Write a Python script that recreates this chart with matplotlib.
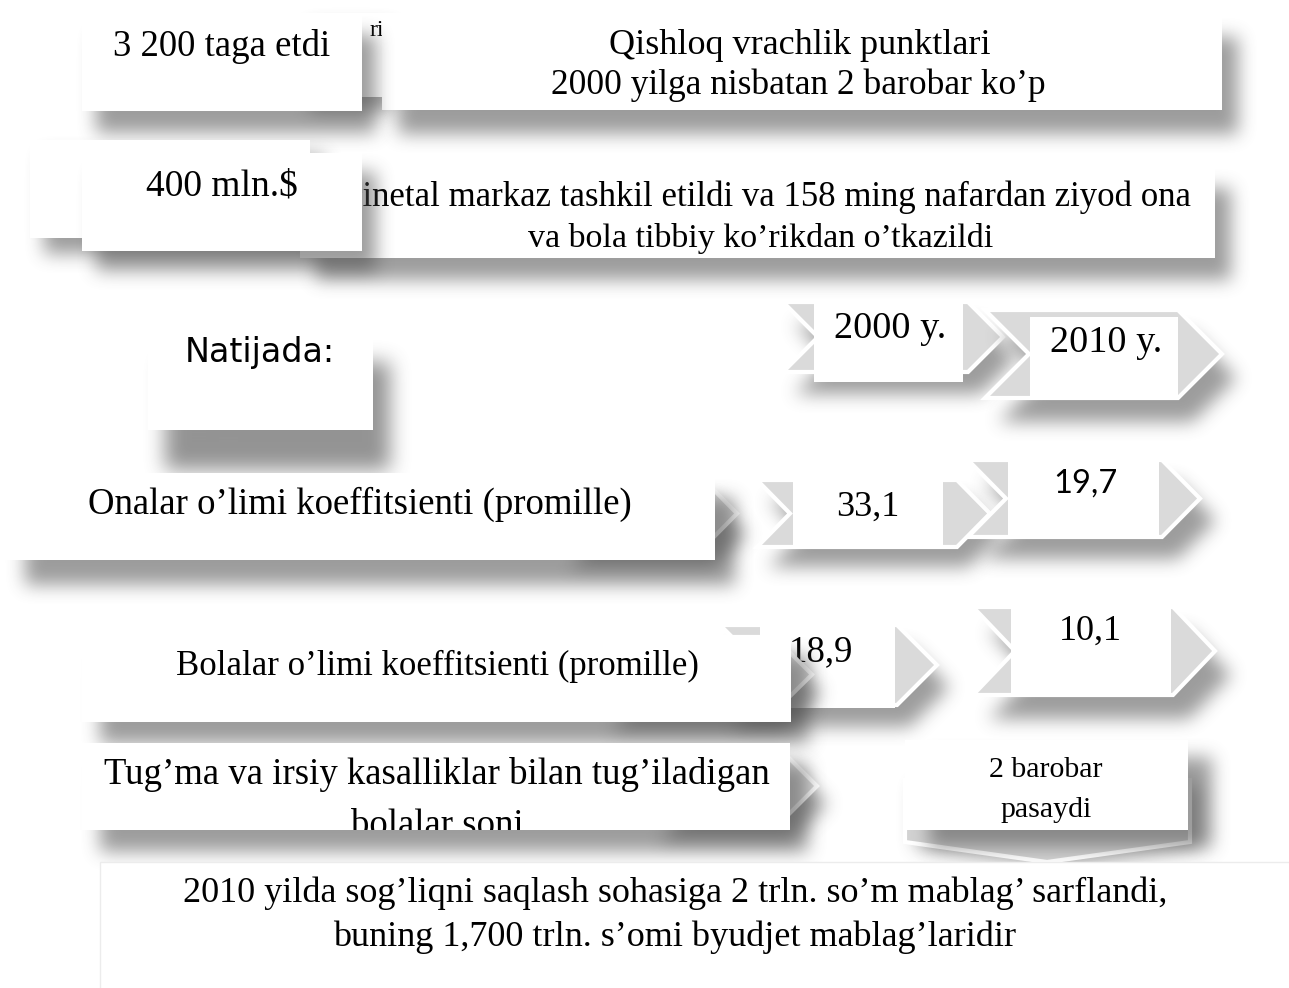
import matplotlib.pyplot as plt
import numpy as np
from matplotlib.patches import Polygon
from matplotlib.path import Path
from matplotlib.transforms import Bbox, TransformedBbox

# data
years = ['2000 y.', '2010 y.']
onalar = [33.1, 19.7]
bolalar = [18.9, 10.1]
row_labels = ['Onalar o’limi koeffitsienti (promille)',
              'Bolalar o’limi koeffitsienti (promille)']
tugma = ['Tug’ma va irsiy kasalliklar bilan tug’iladigan', 'bolalar soni']
tugma_result = ['2 barobar', 'pasaydi']
top_notes = ['3 200 taga etdi', '400 mln.$']
qishloq = ['Qishloq vrachlik punktlari', '2000 yilga nisbatan 2 barobar ko’p']
perinatal = ['Perinetal markaz tashkil etildi va 158 ming nafardan ziyod ona',
             'va bola tibbiy ko’rikdan o’tkazildi']
bottom = ['2010 yilda sog’liqni saqlash sohasiga 2 trln. so’m mablag’ sarflandi,',
          'buning 1,700 trln. s’omi byudjet mablag’laridir']


def fmt(v):
    return f'{v:.1f}'.replace('.', ',')


W, H = 1289, 988
SERIF = 'Liberation Serif'

fig = plt.figure(figsize=(W / 100, H / 100), dpi=100)
ax = fig.add_axes([0, 0, 1, 1])
ax.set_xlim(0, W)
ax.set_ylim(H, 0)
z = [1]


def blur(a, r):
    for _ in range(3):
        for k in (0, 1):
            pad = [(r + 1, r) if i == k else (0, 0) for i in range(2)]
            c = np.cumsum(np.pad(a, pad), axis=k)
            n = c.shape[k]
            a = (np.take(c, range(2 * r + 1, n), axis=k)
                 - np.take(c, range(0, n - 2 * r - 1), axis=k)) / (2 * r + 1)
    return a


def shadow(verts, dx=14, dy=22, r=8, alpha=0.55):
    v = np.asarray(verts, float) + [dx, dy]
    m = 3 * r + 2
    x0 = int(max(v[:, 0].min() - m, 0))
    x1 = int(min(v[:, 0].max() + m, W))
    y0 = int(max(v[:, 1].min() - m, 0))
    y1 = int(min(v[:, 1].max() + m, H))
    xx, yy = np.meshgrid(np.arange(x0, x1) + 0.5, np.arange(y0, y1) + 0.5)
    inside = Path(v).contains_points(np.c_[xx.ravel(), yy.ravel()])
    a = blur(inside.reshape(xx.shape).astype(float), r)
    img = np.zeros(a.shape + (4,))
    img[..., :3] = 0.3
    img[..., 3] = np.clip(a, 0, 1) * alpha
    ax.imshow(img, extent=(x0, x1, y1, y0), zorder=z[0],
              interpolation='bilinear', aspect='auto')
    z[0] += 1


def shape(verts, fc='white', ec='none', lw=0, sh=True, **kw):
    if sh:
        shadow(verts, **kw)
    p = Polygon(verts, closed=True, fc=fc, ec=ec, lw=lw, zorder=z[0])
    ax.add_patch(p)
    z[0] += 1
    return p


def box(x0, y0, x1, y1, **kw):
    return shape([(x0, y0), (x1, y0), (x1, y1), (x0, y1)], **kw)


def chevron(xl, tip, yt, yb, d, **kw):
    ym = (yt + yb) / 2
    v = [(xl, yt), (tip - d, yt), (tip, ym), (tip - d, yb), (xl, yb), (xl + d, ym)]
    return shape(v, fc='#dadada', ec='white', lw=3, **kw)


def label(x, y, s, size, family=SERIF, clip=None, ha='center'):
    t = ax.text(x, y, s, fontsize=size, family=family, ha=ha, va='center',
                color='black', zorder=z[0])
    if clip is not None:
        t.set_clip_path(None)
        t.set_clip_box(TransformedBbox(Bbox.from_extents(*clip), ax.transData))
        t.set_clip_on(True)
    z[0] += 1
    return t


def text_width(s, size):
    t = ax.text(0, 0, s, fontsize=size, family=SERIF)
    bb = t.get_window_extent(renderer=fig.canvas.get_renderer())
    t.remove()
    return bb.width


# top rows
box(300, 13, 382, 97, dx=10, dy=14)
label(384, 31, 'ri', 17, ha='right')
box(382, 13, 1222, 110, dx=16, dy=24)
label(800, 46, qishloq[0], 26)
label(798, 85, qishloq[1], 25.5)
box(82, 13, 362, 111, dx=14, dy=22)
label(222, 46, top_notes[0], 26.5)

box(30, 140, 310, 238, dx=14, dy=16)
box(300, 167, 1215, 258, dx=16, dy=22)
label(363 - text_width('Per', 25), 197, perinatal[0], 25, ha='left')
label(761, 238, perinatal[1], 24.5)
box(82, 153, 362, 251, dx=14, dy=20)
label(222, 186, top_notes[1], 27)

box(148, 322, 373, 430, dx=17, dy=40, r=9, alpha=0.6)
label(260, 352, 'Natijada:', 24, family='DejaVu Sans')

# header chevrons
chevron(783, 1003, 302, 372, 35, dx=12, dy=22)
box(814, 303, 963, 382, sh=False)
label(890, 329, years[0], 27.5)
chevron(985, 1222, 310, 398, 44, dx=14, dy=24)
box(1030, 317, 1178, 398, sh=False)
label(1106, 343, years[1], 27.5)

# row 1
chevron(560, 737, 480, 547, 33, dx=10, dy=20)
chevron(757, 990, 480, 547, 33, dx=12, dy=20)
box(793, 473, 943, 547, sh=False)
label(868, 507, fmt(onalar[0]), 26)
chevron(968, 1200, 460, 537, 38, dx=16, dy=22)
box(1008, 453, 1159, 538, sh=False)
label(1085, 484, fmt(onalar[1]), 23.5, family='Lato')
box(5, 473, 715, 560, dx=20, dy=25, r=8)
label(360, 504, row_labels[0], 26.5)

# row 2
chevron(720, 937, 625, 705, 40, dx=12, dy=22)
box(760, 621, 895, 708, sh=False)
label(821, 652, fmt(bolalar[0]), 26.5)
chevron(973, 1215, 607, 695, 42, dx=16, dy=24)
box(1011, 608, 1171, 696, sh=False)
label(1090, 631, fmt(bolalar[1]), 26)
chevron(600, 812, 637, 712, 38, dx=10, dy=18)
box(82, 635, 791, 722, dx=18, dy=22)
label(437, 666, row_labels[1], 25)

# row 3
chevron(650, 817, 750, 822, 36, dx=10, dy=18)
box(82, 743, 790, 830, dx=18, dy=22)
label(437, 774, tugma[0], 26.5)
label(437, 826, tugma[1], 26.5, clip=(82, 743, 790, 830))
shape([(905, 780), (1190, 780), (1190, 842), (1047, 862), (905, 842)],
      fc='#d2d2d2', ec='white', lw=3, dx=10, dy=6, alpha=0.45)
box(905, 740, 1188, 830, dx=24, dy=18, r=8)
label(1046, 770, tugma_result[0], 21.5)
label(1046, 810, tugma_result[1], 21.5)

# bottom
box(100, 862, 1300, 1000, sh=False, ec='#ececec', lw=1)
label(675, 893, bottom[0], 26)
label(675, 937, bottom[1], 26)

ax.set_xlim(0, W)
ax.set_ylim(H, 0)
ax.axis('off')
fig.savefig('out.png', dpi=100, facecolor='white')
